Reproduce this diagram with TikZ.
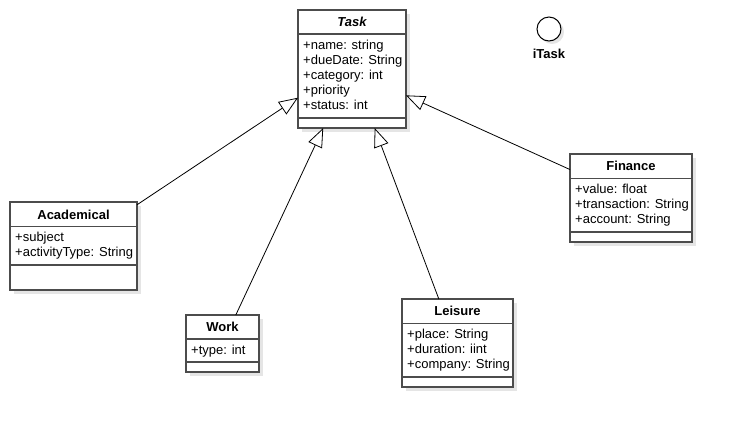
\documentclass[tikz,border=0pt]{standalone}
\usepackage{fontspec}
\setmainfont{Liberation Sans}
\usetikzlibrary{arrows.meta,shadows}

\tikzset{
  umlclass/.style={draw=black!70, line width=1.3bp, fill=white, anchor=north west,
    inner sep=0pt, outer sep=0pt,
    drop shadow={shadow xshift=4bp, shadow yshift=-4bp, fill=black!10, opacity=1}},
  umlsep/.style={draw=black!70, line width=1.3bp},
  umltitle/.style={font=\fontsize{13bp}{15bp}\selectfont\bfseries, anchor=base, inner sep=0pt},
  umlattr/.style={font=\fontsize{13bp}{15bp}\selectfont, anchor=base west, inner sep=0pt},
  inherit/.style={-{Triangle[fill=white, length=19bp, width=15bp]}, line width=0.8bp},
}

\begin{document}
\begin{tikzpicture}[x=1bp, y=-1bp]
  \useasboundingbox (0,0) rectangle (733,426);

  % Task
  \node[umlclass, minimum width=108bp, minimum height=118bp] (task) at (298,10) {};
  \draw[umlsep] (298,34) -- (406,34) (298,118) -- (406,118);
  \node[umltitle] (task-t) at (352,26.5) {\itshape Task};
  \foreach \a [count=\i] in {+name: string, +dueDate: String, +category: int, +priority, +status: int}
    \node[umlattr] (task-\i) at (303,34+15*\i) {\a};

  % interface
  \node[draw=black, line width=1bp, fill=white, circle, minimum size=24bp, inner sep=0pt,
    drop shadow={shadow xshift=3bp, shadow yshift=-3bp, fill=black!10, opacity=1}] (itask) at (549,29) {};
  \node[umltitle] (itask-t) at (549,58.5) {iTask};

  % Finance
  \node[umlclass, minimum width=122bp, minimum height=88bp] (finance) at (570,154) {};
  \draw[umlsep] (570,178.5) -- (692,178.5) (570,232) -- (692,232);
  \node[umltitle] (finance-t) at (631,170.5) {Finance};
  \foreach \a [count=\i] in {+value: float, +transaction: String, +account: String}
    \node[umlattr] (finance-\i) at (575,178.5+15*\i) {\a};

  % Academical
  \node[umlclass, minimum width=127bp, minimum height=88bp] (academical) at (10,202) {};
  \draw[umlsep] (10,226.5) -- (137,226.5) (10,265) -- (137,265);
  \node[umltitle] (academical-t) at (73.5,219) {Academical};
  \foreach \a [count=\i] in {+subject, +activityType: String}
    \node[umlattr] (academical-\i) at (15,226.5+15*\i) {\a};

  % Work
  \node[umlclass, minimum width=73bp, minimum height=57bp] (work) at (186,315) {};
  \draw[umlsep] (186,339) -- (259,339) (186,362) -- (259,362);
  \node[umltitle] (work-t) at (222.5,331) {Work};
  \node[umlattr] (work-1) at (191,354) {+type: int};

  % Leisure
  \node[umlclass, minimum width=111bp, minimum height=88bp] (leisure) at (402,299) {};
  \draw[umlsep] (402,323.5) -- (513,323.5) (402,377) -- (513,377);
  \node[umltitle] (leisure-t) at (457.5,315.5) {Leisure};
  \foreach \a [count=\i] in {+place: String, +duration: iint, +company: String}
    \node[umlattr] (leisure-\i) at (407,323+15*\i) {\a};

  % generalisations
  \draw[inherit] (academical.33) -- (task.208);
  \draw[inherit] (work.65) -- (task.244);
  \draw[inherit] (leisure.113) -- (task.291);
  \draw[inherit] (finance.155) -- (task.334);
\end{tikzpicture}
\end{document}
